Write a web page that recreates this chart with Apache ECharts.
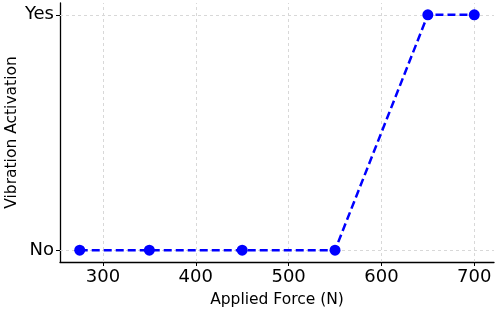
<!DOCTYPE html>
<html><head><meta charset="utf-8">
<script src="https://cdn.jsdelivr.net/npm/echarts@6/dist/echarts.min.js"></script>
<style>html,body{margin:0;padding:0;background:#fff}#c{width:498px;height:310px}</style>
</head><body><div id="c"></div>
<script>
var forces = [275, 350, 450, 550, 650, 700];
var activation = [0, 0, 0, 0, 1, 1];
var xTicks = [300, 400, 500, 600, 700];
var yTicks = [0, 1];
var yTickLabels = ['No', 'Yes'];
var xMin = 253.75, xMax = 721.25, yMin = -0.05, yMax = 1.05;

var chart = echarts.init(document.getElementById('c'), null, {renderer: 'canvas'});
var font = 'DejaVu Sans';
var gridLines = [];
xTicks.forEach(function (v) { gridLines.push({xAxis: v}); });
yTicks.forEach(function (v) { gridLines.push({yAxis: v}); });

chart.setOption({
  animation: false,
  grid: {left: 60, right: 4, top: 3, bottom: 48, containLabel: false, outerBoundsMode: 'none'},
  xAxis: {
    type: 'value', min: xMin, max: xMax,
    name: 'Applied Force (N)', nameLocation: 'middle', nameGap: 30, nameMoveOverlap: false,
    nameTextStyle: {fontFamily: font, fontSize: 15.5, color: '#000'},
    axisLine: {show: true, onZero: false, lineStyle: {color: '#000', width: 1.3}},
    axisTick: {show: true, customValues: xTicks, length: 4, inside: false, lineStyle: {color: '#000', width: 1}},
    axisLabel: {customValues: xTicks, fontFamily: font, fontSize: 18, color: '#000', margin: 6},
    splitLine: {show: false}
  },
  yAxis: {
    type: 'value', min: yMin, max: yMax,
    name: 'Vibration Activation', nameLocation: 'middle', nameGap: 40, nameRotate: 90, nameMoveOverlap: false,
    nameTextStyle: {fontFamily: font, fontSize: 15.5, color: '#000'},
    axisLine: {show: true, onZero: false, lineStyle: {color: '#000', width: 1.3}},
    axisTick: {show: true, customValues: yTicks, length: 4, inside: false, lineStyle: {color: '#000', width: 1}},
    axisLabel: {customValues: yTicks, fontFamily: font, fontSize: 18, color: '#000', margin: 6,
      formatter: function (v) { var i = yTicks.indexOf(v); return i >= 0 ? yTickLabels[i] : ''; }},
    splitLine: {show: false}
  },
  series: [{
    type: 'line',
    data: forces.map(function (f, i) { return [f, activation[i]]; }),
    symbol: 'circle', symbolSize: 11,
    itemStyle: {color: '#0000ff'},
    lineStyle: {color: '#0000ff', width: 2.5, type: [8, 4]},
    z: 5,
    markLine: {
      silent: true, symbol: 'none', label: {show: false}, animation: false,
      lineStyle: {color: '#d8d8d8', width: 1, type: [3, 3]},
      data: gridLines, z: 1
    }
  }]
});
</script></body></html>
